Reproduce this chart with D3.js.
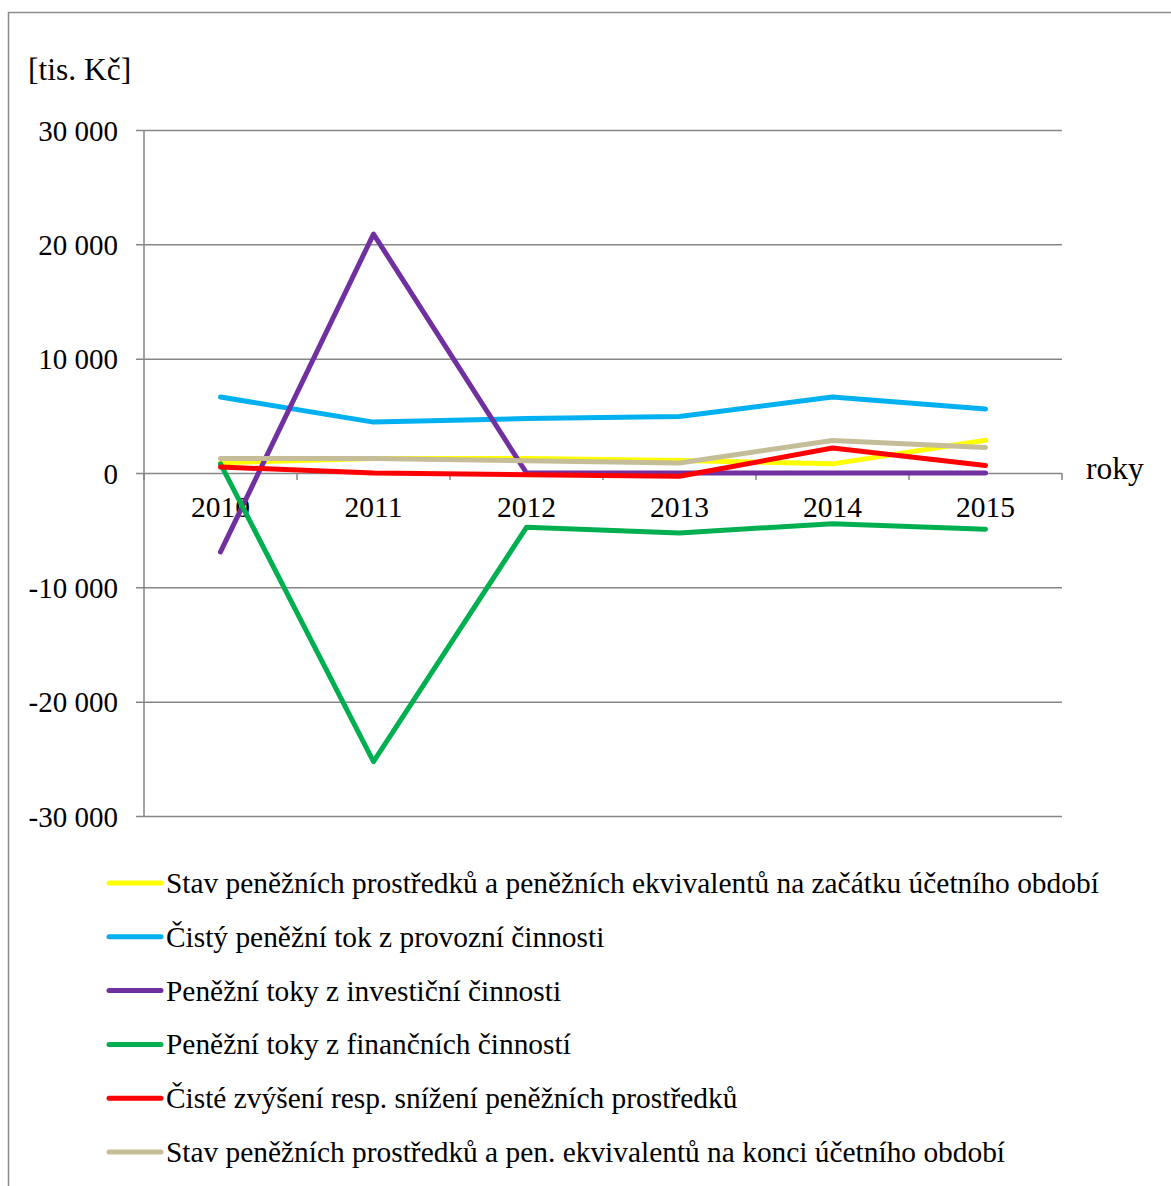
<!DOCTYPE html>
<html>
<head>
<meta charset="utf-8">
<script src="https://cdn.jsdelivr.net/npm/d3@7"></script>
<style>
  html, body { margin: 0; padding: 0; background: #fff; }
  svg { display: block; }
  text { font-family: "Liberation Serif", "Times New Roman", serif; fill: #000; }
</style>
</head>
<body>
<svg id="chart" width="1171" height="1186"></svg>
<script>
// Cash-flow overview 2010–2015, values in thousands of CZK
const years = ["2010", "2011", "2012", "2013", "2014", "2015"];

const stavZacatek   = [900, 1275, 1275, 1100, 800, 2870];
const provozni      = [6640, 4450, 4760, 4950, 6640, 5590];
const investicni    = [-6900, 20900, 0, 0, 0, 0];
const financni      = [800, -25250, -4750, -5240, -4430, -4920];
const zmena         = [520, 0, -150, -280, 2180, 650];
const stavKonec     = [1275, 1275, 1075, 870, 2850, 2240];

const seriesNames = [
  "Stav peněžních prostředků a peněžních ekvivalentů na začátku účetního období",
  "Čistý peněžní tok z provozní činnosti",
  "Peněžní toky z investiční činnosti",
  "Peněžní toky z finančních činností",
  "Čisté zvýšení resp. snížení peněžních prostředků",
  "Stav peněžních prostředků a pen. ekvivalentů na konci účetního období"
];
const seriesColors = ["#FFFF00", "#00B0F0", "#7030A0", "#00B050", "#FF0000", "#C4BD97"];
const seriesValues = [stavZacatek, provozni, investicni, financni, zmena, stavKonec];

const yTicks = [-30000, -20000, -10000, 0, 10000, 20000, 30000];

const FONT = "'Liberation Serif', 'Times New Roman', serif";
const svg = d3.select("#chart");

// outer frame (left and top edges)
svg.append("path")
  .attr("d", "M8.5,1186 V12.5 H1171")
  .attr("fill", "none")
  .attr("stroke", "#8c8c8c")
  .attr("stroke-width", 1.5);

const plot = { left: 144, right: 1062, top: 130, bottom: 816 };

const x = d3.scaleBand().domain(years).range([plot.left, plot.right]);
const y = d3.scaleLinear().domain([-30000, 30000]).range([plot.bottom, plot.top]);

const loc = d3.formatLocale({ decimal: ",", thousands: " ", grouping: [3], currency: ["", ""], minus: "-" });
const fmt = loc.format(",d");

// horizontal gridlines with left tick marks and labels
const yAxis = d3.axisLeft(y)
  .tickValues(yTicks)
  .tickSize(-(plot.right - plot.left))
  .tickSizeOuter(0)
  .tickPadding(0)
  .tickFormat(fmt);

const gy = svg.append("g").attr("transform", `translate(${plot.left},0)`).call(yAxis)
  .attr("font-family", FONT).attr("font-size", 29);
gy.select(".domain").remove();
gy.selectAll(".tick line")
  .attr("x1", -8)
  .attr("stroke", "#868686")
  .attr("stroke-width", 1.5);
gy.selectAll(".tick text")
  .attr("x", -26)
  .attr("dy", "0.35em")
  .attr("fill", "#000");

// vertical axis line
svg.append("line")
  .attr("x1", plot.left).attr("x2", plot.left)
  .attr("y1", plot.top).attr("y2", plot.bottom)
  .attr("stroke", "#868686").attr("stroke-width", 1.5);

// category axis on the zero line
const zeroY = y(0);
const boundaries = years.map(d => x(d)).concat([plot.right]);
svg.append("g").selectAll("line.xt").data(boundaries).join("line")
  .attr("x1", d => d).attr("x2", d => d)
  .attr("y1", zeroY).attr("y2", zeroY + 7)
  .attr("stroke", "#868686").attr("stroke-width", 1.5);

svg.append("g").selectAll("text.xl").data(years).join("text")
  .attr("x", d => x(d) + x.bandwidth() / 2)
  .attr("y", 517)
  .attr("text-anchor", "middle")
  .attr("font-family", FONT)
  .attr("font-size", 29.5)
  .text(d => d);

// series lines
const line = d3.line()
  .x((d, i) => x(years[i]) + x.bandwidth() / 2)
  .y(d => y(d));

svg.append("g").selectAll("path.series").data(seriesValues).join("path")
  .attr("d", d => line(d))
  .attr("fill", "none")
  .attr("stroke", (d, i) => seriesColors[i])
  .attr("stroke-width", 5)
  .attr("stroke-linejoin", "round")
  .attr("stroke-linecap", "round");

// axis titles
svg.append("text").attr("x", 28).attr("y", 80)
  .attr("font-family", FONT).attr("font-size", 31.5).text("[tis. Kč]");
svg.append("text").attr("x", 1086).attr("y", 479)
  .attr("font-family", FONT).attr("font-size", 31.5).text("roky");

// legend
const legend = svg.append("g");
const legendTop = 883, legendStep = 53.8;
seriesNames.forEach((name, i) => {
  const cy = legendTop + i * legendStep;
  legend.append("line")
    .attr("x1", 109).attr("x2", 161)
    .attr("y1", cy).attr("y2", cy)
    .attr("stroke", seriesColors[i])
    .attr("stroke-width", 5)
    .attr("stroke-linecap", "round");
  legend.append("text")
    .attr("x", 166).attr("y", cy + 10)
    .attr("font-family", FONT)
    .attr("font-size", 29.4)
    .text(name);
});
</script>
</body>
</html>
